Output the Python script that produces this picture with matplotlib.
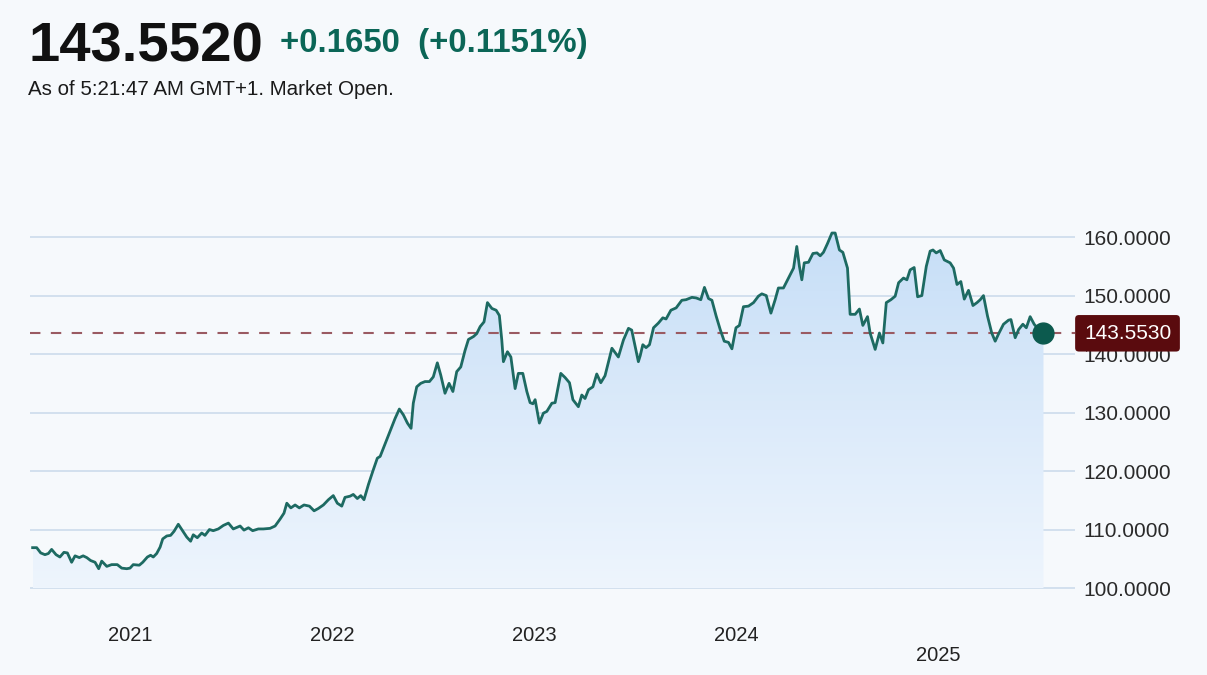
import numpy as np
import matplotlib.pyplot as plt
import matplotlib.transforms as mtransforms
from matplotlib.colors import LinearSegmentedColormap

plt.rcParams['font.family'] = ['Liberation Sans', 'DejaVu Sans']

# price history (decimal years, price)
years = [
    2020.518, 2020.538, 2020.558, 2020.579, 2020.596, 2020.612, 2020.634, 2020.653, 2020.673, 2020.690,
    2020.711, 2020.728, 2020.749, 2020.768, 2020.786, 2020.805, 2020.827, 2020.845, 2020.860, 2020.885,
    2020.909, 2020.937, 2020.959, 2020.984, 2021.000, 2021.016, 2021.046, 2021.063, 2021.086, 2021.102,
    2021.115, 2021.132, 2021.149, 2021.162, 2021.182, 2021.201, 2021.218, 2021.239, 2021.264, 2021.281,
    2021.300, 2021.313, 2021.333, 2021.355, 2021.371, 2021.393, 2021.412, 2021.437, 2021.462, 2021.487,
    2021.511, 2021.545, 2021.564, 2021.586, 2021.607, 2021.635, 2021.660, 2021.693, 2021.718, 2021.743,
    2021.762, 2021.776, 2021.796, 2021.817, 2021.838, 2021.861, 2021.888, 2021.911, 2021.932, 2021.957,
    2021.982, 2022.006, 2022.026, 2022.048, 2022.064, 2022.089, 2022.105, 2022.125, 2022.142, 2022.158,
    2022.180, 2022.201, 2022.224, 2022.238, 2022.254, 2022.274, 2022.296, 2022.312, 2022.333, 2022.353,
    2022.373, 2022.391, 2022.402, 2022.419, 2022.439, 2022.460, 2022.482, 2022.501, 2022.521, 2022.538,
    2022.559, 2022.579, 2022.598, 2022.617, 2022.637, 2022.658, 2022.675, 2022.700, 2022.716, 2022.733,
    2022.752, 2022.769, 2022.791, 2022.812, 2022.828, 2022.840, 2022.848, 2022.868, 2022.885, 2022.906,
    2022.922, 2022.944, 2022.964, 2022.980, 2022.994, 2023.005, 2023.026, 2023.046, 2023.063, 2023.088,
    2023.104, 2023.132, 2023.153, 2023.175, 2023.192, 2023.219, 2023.236, 2023.252, 2023.269, 2023.291,
    2023.310, 2023.330, 2023.351, 2023.385, 2023.417, 2023.442, 2023.467, 2023.483, 2023.500, 2023.516,
    2023.525, 2023.538, 2023.554, 2023.571, 2023.591, 2023.615, 2023.637, 2023.653, 2023.677, 2023.703,
    2023.731, 2023.752, 2023.781, 2023.802, 2023.825, 2023.843, 2023.863, 2023.880, 2023.901, 2023.921,
    2023.941, 2023.962, 2023.979, 2023.999, 2024.016, 2024.036, 2024.061, 2024.086, 2024.110, 2024.127,
    2024.149, 2024.172, 2024.193, 2024.209, 2024.234, 2024.259, 2024.284, 2024.300, 2024.313, 2024.325,
    2024.337, 2024.358, 2024.380, 2024.400, 2024.416, 2024.432, 2024.452, 2024.474, 2024.490, 2024.511,
    2024.528, 2024.551, 2024.564, 2024.589, 2024.610, 2024.627, 2024.650, 2024.663, 2024.688, 2024.709,
    2024.726, 2024.743, 2024.766, 2024.787, 2024.804, 2024.828, 2024.845, 2024.861, 2024.881, 2024.898,
    2024.919, 2024.941, 2024.960, 2024.974, 2024.990, 2025.010, 2025.030, 2025.059, 2025.076, 2025.093,
    2025.112, 2025.129, 2025.150, 2025.172, 2025.192, 2025.208, 2025.224, 2025.244, 2025.265, 2025.282,
    2025.298, 2025.323, 2025.348, 2025.360, 2025.381, 2025.398, 2025.419, 2025.436, 2025.455, 2025.475,
    2025.497, 2025.521,
]
prices = [
    106.9, 106.9, 106.0, 105.7, 105.9, 106.6, 105.7, 105.3, 106.1, 106.0,
    104.4, 105.5, 105.2, 105.5, 105.2, 104.7, 104.4, 103.3, 104.6, 103.7,
    104.0, 104.0, 103.4, 103.3, 103.4, 104.0, 103.9, 104.4, 105.3, 105.6,
    105.3, 105.9, 107.0, 108.4, 108.9, 109.0, 109.7, 110.9, 109.6, 108.7,
    108.0, 109.1, 108.6, 109.4, 109.0, 110.0, 109.8, 110.1, 110.7, 111.1,
    110.1, 110.6, 109.9, 110.3, 109.8, 110.1, 110.1, 110.2, 110.6, 111.8,
    112.8, 114.5, 113.7, 114.2, 113.7, 114.2, 114.0, 113.2, 113.6, 114.2,
    115.1, 115.8, 114.5, 114.0, 115.5, 115.7, 116.0, 115.3, 115.8, 115.1,
    117.7, 119.9, 122.2, 122.5, 123.9, 125.6, 127.6, 129.0, 130.6, 129.6,
    128.2, 127.3, 131.6, 134.4, 135.0, 135.3, 135.3, 136.1, 138.5, 136.4,
    133.3, 135.0, 133.6, 137.0, 137.8, 140.6, 142.5, 143.0, 143.5, 144.7,
    145.5, 148.8, 147.8, 147.5, 146.6, 142.4, 138.7, 140.4, 139.5, 134.1,
    136.7, 136.7, 133.6, 131.7, 131.5, 132.2, 128.2, 129.9, 130.2, 131.6,
    131.7, 136.7, 136.0, 135.1, 132.2, 131.0, 133.0, 132.4, 133.9, 134.4,
    136.6, 135.1, 136.3, 141.0, 139.5, 142.4, 144.4, 144.1, 141.3, 138.7,
    139.7, 141.6, 141.1, 141.6, 144.5, 145.3, 146.2, 146.0, 147.5, 147.9,
    149.2, 149.3, 149.7, 149.6, 149.3, 151.4, 149.5, 149.2, 146.5, 144.2,
    142.2, 142.0, 140.9, 144.5, 144.9, 148.1, 148.2, 148.8, 149.9, 150.3,
    150.0, 147.0, 149.3, 151.3, 151.3, 153.0, 154.7, 158.4, 155.0, 152.7,
    155.6, 155.7, 157.2, 157.3, 156.8, 157.4, 158.9, 160.7, 160.7, 157.8,
    157.4, 154.7, 146.8, 146.8, 147.7, 144.9, 146.4, 143.6, 140.8, 143.6,
    141.9, 148.8, 149.3, 149.9, 152.2, 153.0, 152.7, 154.4, 154.8, 149.8,
    150.0, 155.0, 157.6, 157.8, 157.3, 157.7, 156.1, 155.6, 154.7, 151.9,
    152.4, 149.4, 150.9, 148.3, 148.8, 149.3, 150.0, 146.5, 143.6, 142.2,
    143.4, 145.1, 145.8, 145.9, 142.8, 144.2, 145.1, 144.5, 146.4, 145.1,
    144.2, 143.553,
]

y_ticks = [100, 110, 120, 130, 140, 150, 160]
year_ticks = [2021, 2022, 2023, 2024, 2025]
last_price = 143.553

price_text = "143.5520"
change_text = "+0.1650  (+0.1151%)"
status_text = "As of 5:21:47 AM GMT+1. Market Open."

bg = '#f6f9fc'
line_col = '#1d6a62'
grid_col = '#d3e0ee'

fig = plt.figure(figsize=(12.07, 6.75), dpi=100, facecolor=bg)
ax = fig.add_axes([30 / 1207, 75 / 675, 1045 / 1207, 405 / 675])
ax.set_facecolor(bg)

ybot, ytop = 97.95, 167.2

for v in y_ticks:
    ax.axhline(v, color=grid_col, lw=1.4, zorder=1)

# gradient fill under the line
fill = ax.fill_between(years, prices, 100, color='none', lw=0)
cmap = LinearSegmentedColormap.from_list('fade', ['#eef5fd', '#dbeafa', '#c6def7'])
grad = np.linspace(0, 1, 256).reshape(-1, 1)
img = ax.imshow(grad, extent=[years[0], years[-1], 100, 161], origin='lower',
                aspect='auto', cmap=cmap, zorder=2)
img.set_clip_path(fill.get_paths()[0], ax.transData)

ax.axhline(last_price, color='#9a5a62', lw=1.5, dashes=(5, 5), zorder=3)
ax.plot(years, prices, color=line_col, lw=2.0, zorder=4)
ax.plot(years[-1], prices[-1], 'o', ms=15, color='#0c5a4e', zorder=5)

ax.set_xlim(2020.505, 2025.677)
ax.set_ylim(ybot, ytop)

for s in ax.spines.values():
    s.set_visible(False)
ax.set_xticks([])
ax.yaxis.tick_right()
ax.set_yticks(y_ticks)
ax.set_yticklabels([f"{v:.4f}" for v in y_ticks])
ax.tick_params(axis='y', length=0, pad=6, labelsize=15, labelcolor='#2a2a2a')

trans = mtransforms.blended_transform_factory(ax.transData, ax.transAxes)
for yr in year_ticks:
    yy = -0.136 if yr == 2025 else -0.088
    ax.text(yr, yy, str(yr), transform=trans, ha='center', va='center',
            fontsize=14.5, color='#222222')

tr2 = mtransforms.blended_transform_factory(ax.transAxes, ax.transData)
ax.text(1.0085, last_price, f"{last_price:.4f}", transform=tr2, ha='left', va='center',
        fontsize=15, color='white', zorder=6,
        bbox=dict(boxstyle='round,pad=0.42,rounding_size=0.18', fc='#5a0b0e', ec='none'))

fig.text(28 / 1207, 1 - 62 / 675, price_text, fontsize=40.5, fontweight='bold',
         color='#111111', va='baseline')
fig.text(280 / 1207, 1 - 52 / 675, change_text, fontsize=23.8, fontweight='bold',
         color='#0b6657', va='baseline')
fig.text(28 / 1207, 1 - 95 / 675, status_text, fontsize=14.8, color='#1a1a1a', va='baseline')

fig.savefig('out.png', dpi=100, facecolor=bg)
